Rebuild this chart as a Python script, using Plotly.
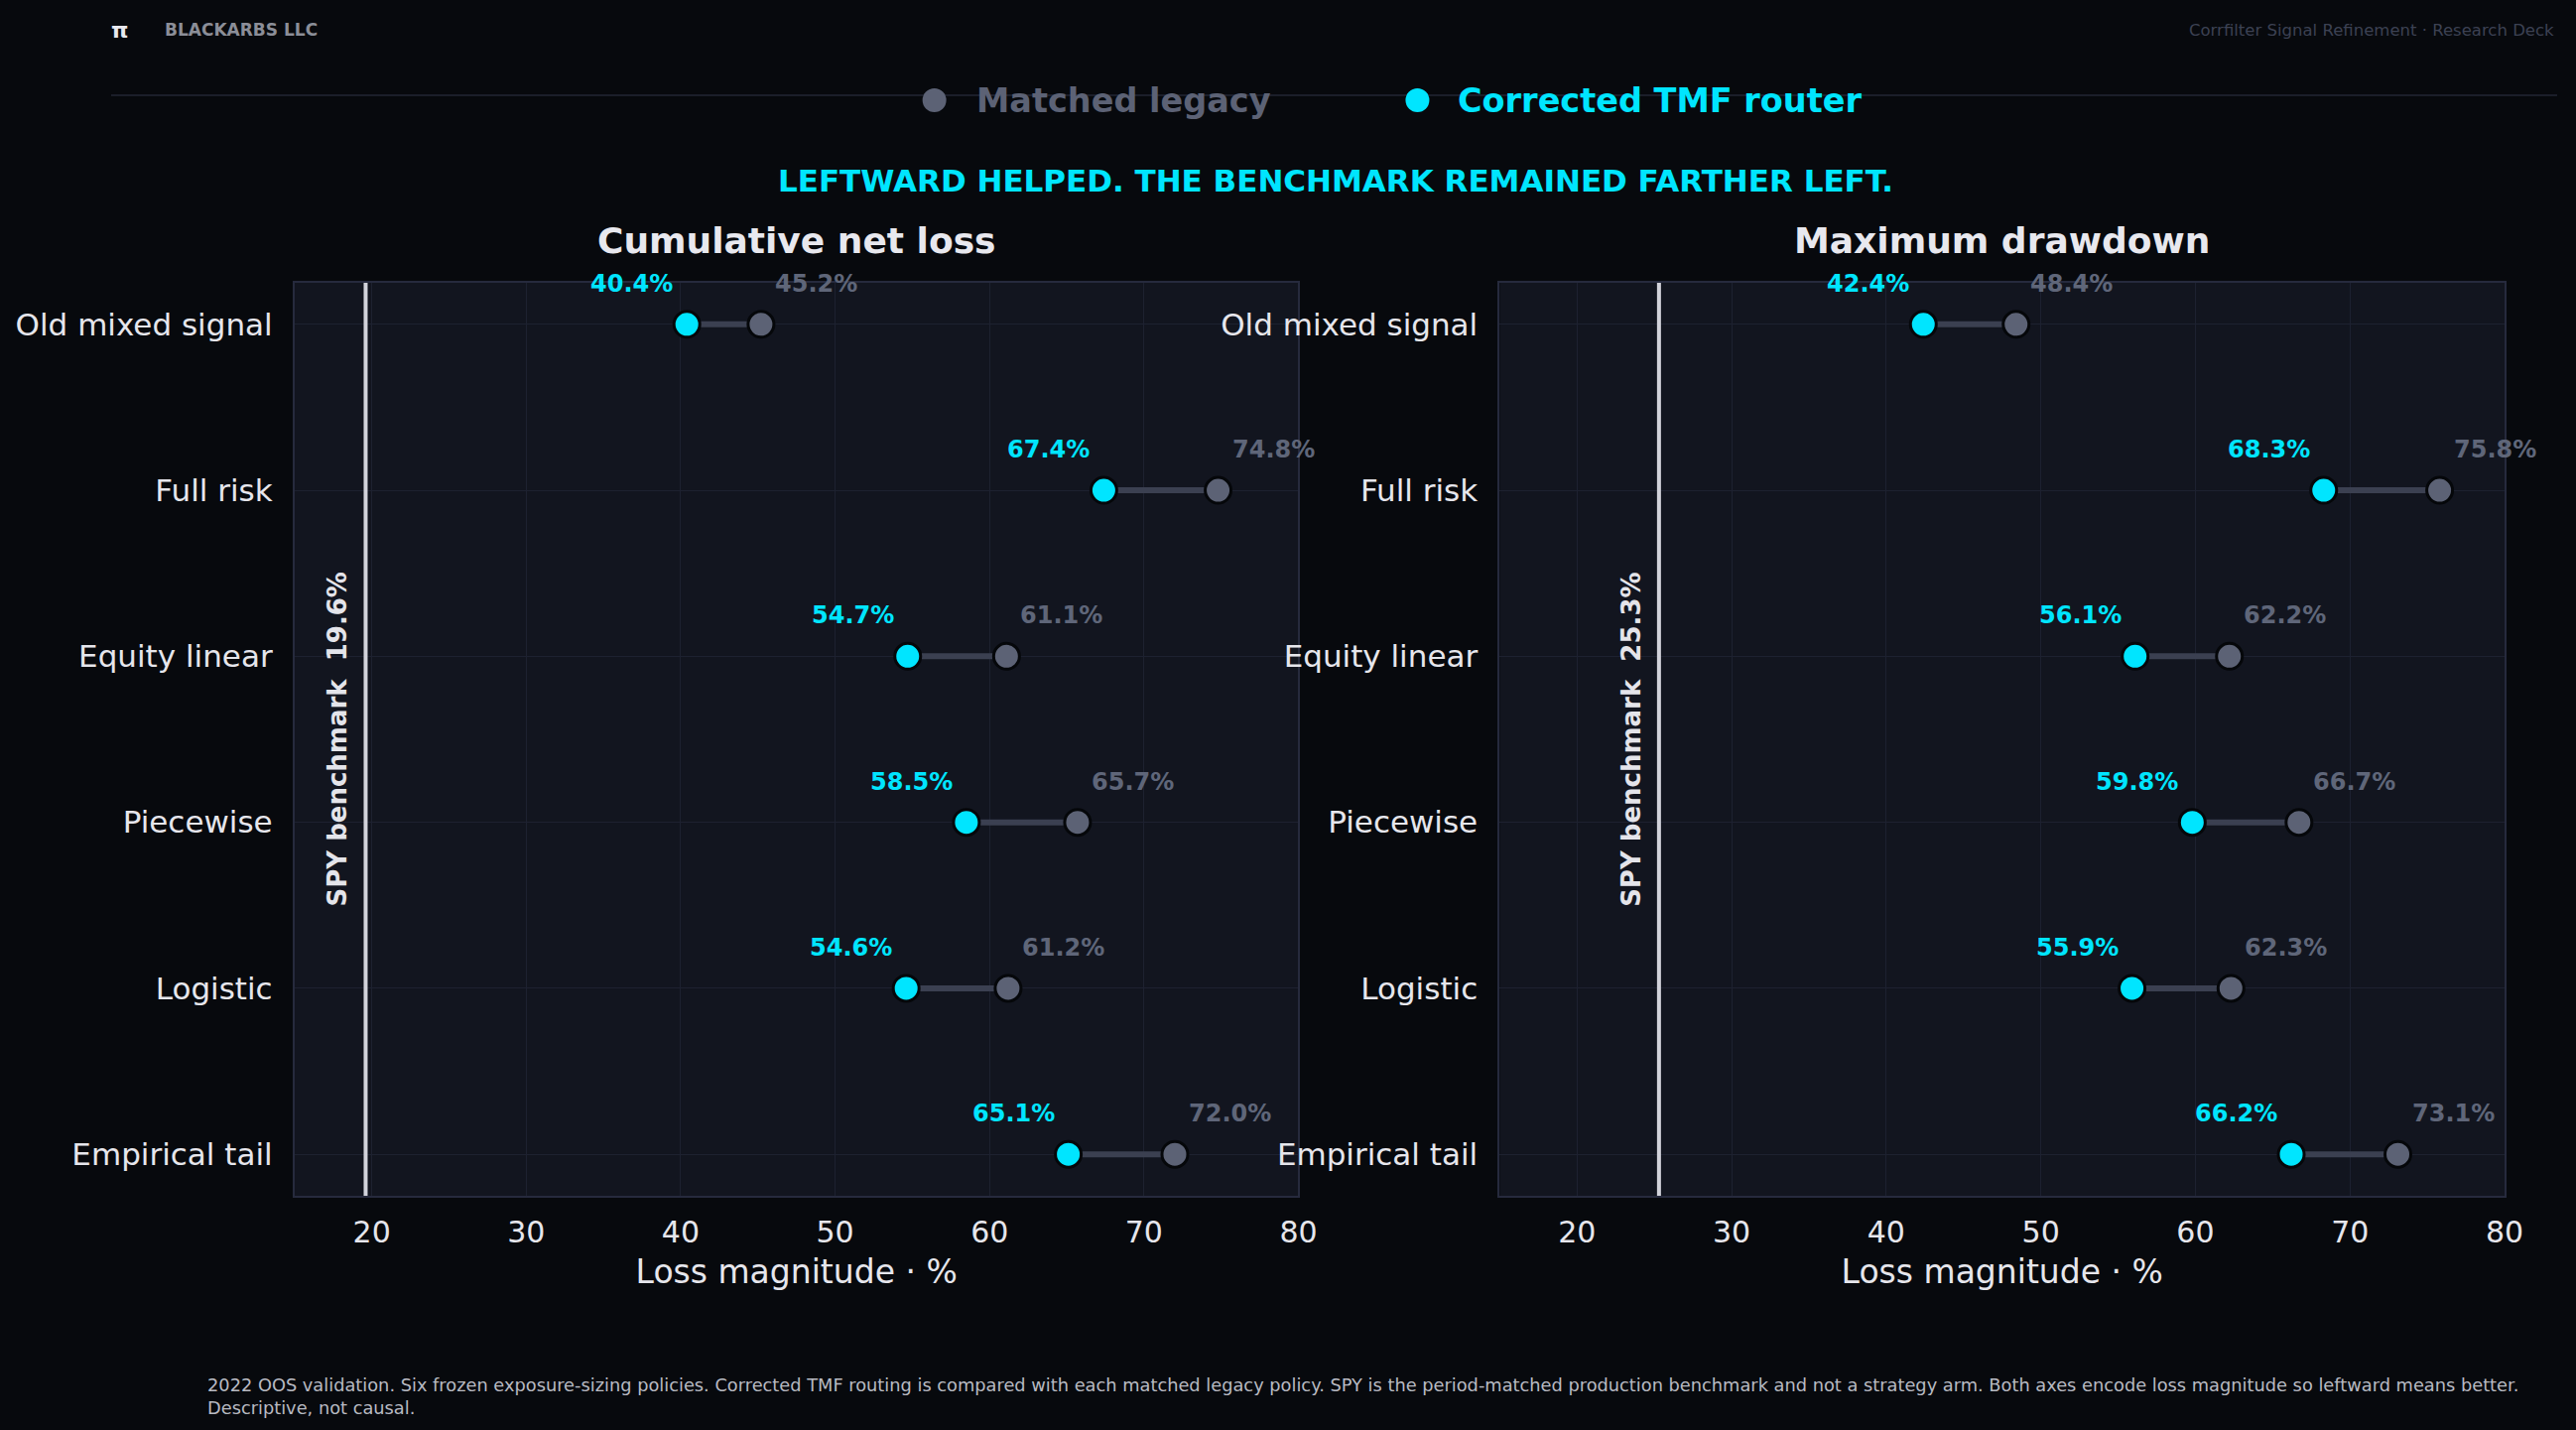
import plotly.graph_objects as go

# ---------------- data ----------------
categories = ["Old mixed signal", "Full risk", "Equity linear", "Piecewise", "Logistic", "Empirical tail"]
loss_legacy = [45.2, 74.8, 61.1, 65.7, 61.2, 72.0]
loss_corrected = [40.4, 67.4, 54.7, 58.5, 54.6, 65.1]
dd_legacy = [48.4, 75.8, 62.2, 66.7, 62.3, 73.1]
dd_corrected = [42.4, 68.3, 56.1, 59.8, 55.9, 66.2]
spy_loss = 19.6
spy_dd = 25.3
panel_titles = ["Cumulative net loss", "Maximum drawdown"]
x_tick_vals = [20, 30, 40, 50, 60, 70, 80]
series_names = ["Matched legacy", "Corrected TMF router"]

# ---------------- style ----------------
H = 1441
WE = 2578  # effective drawing width used for paper fractions
FONT = "DejaVu Sans"
PAPER = "#07090d"
PLOT = "#12151f"
GRID = "#1d2130"
FRAME = "#262a3d"
CYAN = "#00e5ff"
GREY = "#5c6275"
GREY_LBL = "#5f6679"
CONNECT = "#3b4051"
OUTLINE = "#05070a"
TXT = "#e6e6ec"

panels = [
    dict(legacy=loss_legacy, corrected=loss_corrected, spy=spy_loss, title=panel_titles[0],
         xa="x", ya="y", dom=[297 / WE, 1309 / WE]),
    dict(legacy=dd_legacy, corrected=dd_corrected, spy=spy_dd, title=panel_titles[1],
         xa="x2", ya="y2", dom=[1512 / WE, 2525 / WE]),
]
ydom = [1 - 1205 / H, 1 - 285 / H]

fig = go.Figure()
annotations = []
shapes = []

for i, p in enumerate(panels):
    # connectors
    cx, cy = [], []
    for c, a, b in zip(categories, p["corrected"], p["legacy"]):
        cx += [a, b, None]
        cy += [c, c, None]
    fig.add_trace(go.Scatter(x=cx, y=cy, mode="lines", xaxis=p["xa"], yaxis=p["ya"],
                             line=dict(color=CONNECT, width=6), hoverinfo="skip", showlegend=False))
    fig.add_trace(go.Scatter(x=p["legacy"], y=categories, mode="markers", name=series_names[0],
                             xaxis=p["xa"], yaxis=p["ya"], showlegend=False,
                             marker=dict(size=26, color=GREY, line=dict(color=OUTLINE, width=3))))
    fig.add_trace(go.Scatter(x=p["corrected"], y=categories, mode="markers", name=series_names[1],
                             xaxis=p["xa"], yaxis=p["ya"], showlegend=False,
                             marker=dict(size=26, color=CYAN, line=dict(color=OUTLINE, width=3))))
    # value labels
    for c, a, b in zip(categories, p["corrected"], p["legacy"]):
        annotations.append(dict(x=a, y=c, xref=p["xa"], yref=p["ya"], text=f"<b>{a:.1f}%</b>",
                                showarrow=False, xanchor="right", yanchor="middle", xshift=-12, yshift=41,
                                font=dict(family=FONT, size=24, color=CYAN)))
        annotations.append(dict(x=b, y=c, xref=p["xa"], yref=p["ya"], text=f"<b>{b:.1f}%</b>",
                                showarrow=False, xanchor="left", yanchor="middle", xshift=12, yshift=41,
                                font=dict(family=FONT, size=24, color=GREY_LBL)))
    # benchmark
    shapes.append(dict(type="line", xref=p["xa"], yref=p["ya"] + " domain", x0=p["spy"], x1=p["spy"],
                       y0=0, y1=1, line=dict(color="#d2d3db", width=4), layer="above"))
    annotations.append(dict(x=p["spy"], y=0.5, xref=p["xa"], yref=p["ya"] + " domain",
                            text=f"<b>SPY benchmark  {p['spy']:.1f}%</b>", textangle=-90,
                            showarrow=False, xanchor="center", yanchor="middle", xshift=-28,
                            font=dict(family=FONT, size=26, color="#e4e4ea")))
    # panel title
    annotations.append(dict(x=0.5, y=1 - 242 / H, xref=p["xa"] + " domain", yref="paper",
                            text=f"<b>{p['title']}</b>",
                            showarrow=False, xanchor="center", yanchor="middle",
                            font=dict(family=FONT, size=36, color="#e8e8ee")))

axis_common_x = dict(range=[15, 80], tickvals=x_tick_vals, showgrid=True, gridcolor=GRID, gridwidth=1,
                     zeroline=False, showline=True, mirror=True, linecolor=FRAME, linewidth=2,
                     ticks="outside", ticklen=9, tickcolor="rgba(0,0,0,0)",
                     tickfont=dict(family=FONT, size=30, color=TXT),
                     title=dict(text="Loss magnitude · %", standoff=12,
                                font=dict(family=FONT, size=33, color=TXT)))
axis_common_y = dict(type="category", categoryarray=categories, range=[5.25, -0.25],
                     showgrid=True, gridcolor=GRID, gridwidth=1, zeroline=False,
                     showline=True, mirror=True, linecolor=FRAME, linewidth=2,
                     ticks="outside", ticklen=14, tickcolor="rgba(0,0,0,0)",
                     tickfont=dict(family=FONT, size=31, color=TXT))

fig.update_layout(
    xaxis=dict(domain=panels[0]["dom"], anchor="y", **axis_common_x),
    yaxis=dict(domain=ydom, anchor="x", **axis_common_y),
    xaxis2=dict(domain=panels[1]["dom"], anchor="y2", **axis_common_x),
    yaxis2=dict(domain=ydom, anchor="x2", **axis_common_y),
)

# header rule
shapes.append(dict(type="line", xref="paper", yref="paper", x0=112 / WE, x1=2578 / WE,
                   y0=1 - 96 / H, y1=1 - 96 / H, line=dict(color="#1b1e29", width=2), layer="below"))

# legend (custom)
leg_y = 1 - 101 / H
for cxp, col, name, tx in [(942, GREY, series_names[0], 982), (1429, CYAN, series_names[1], 1468)]:
    r = 12
    shapes.append(dict(type="circle", xref="paper", yref="paper", x0=(cxp - r) / WE, x1=(cxp + r) / WE,
                       y0=leg_y - r / H, y1=leg_y + r / H, fillcolor=col, line=dict(width=0)))
    annotations.append(dict(x=tx / WE, y=leg_y, xref="paper", yref="paper", text=f"<b>{name}</b>",
                            showarrow=False, xanchor="left", yanchor="middle",
                            font=dict(family=FONT, size=33.5, color=col)))

# subtitle
annotations.append(dict(x=1347 / WE, y=1 - 182 / H, xref="paper", yref="paper",
                        text="<b>LEFTWARD HELPED. THE BENCHMARK REMAINED FARTHER LEFT.</b>",
                        showarrow=False, xanchor="center", yanchor="middle",
                        font=dict(family=FONT, size=31, color=CYAN)))

# brand
annotations.append(dict(x=121 / WE, y=1 - 30 / H, xref="paper", yref="paper", text="<b>π</b>",
                        showarrow=False, xanchor="center", yanchor="middle",
                        font=dict(family=FONT, size=22, color="#e8e8ee")))
annotations.append(dict(x=164 / WE, y=1 - 30 / H, xref="paper", yref="paper", text="<b>BLACKARBS LLC</b>",
                        showarrow=False, xanchor="left", yanchor="middle",
                        font=dict(family=FONT, size=17, color="#8b8e98")))
annotations.append(dict(x=2577 / WE, y=1 - 30 / H, xref="paper", yref="paper",
                        text="Corrfilter Signal Refinement · Research Deck",
                        showarrow=False, xanchor="right", yanchor="middle",
                        font=dict(family=FONT, size=16.5, color="#3c4153")))

# footer
annotations.append(dict(x=207 / WE, y=1 - 1383 / H, xref="paper", yref="paper",
                        text=("2022 OOS validation. Six frozen exposure-sizing policies. Corrected TMF routing is "
                              "compared with each matched legacy policy. SPY is the period-matched production "
                              "benchmark and not a strategy arm. Both axes encode loss magnitude so leftward means "
                              "better.<br>Descriptive, not causal."),
                        showarrow=False, xanchor="left", yanchor="top", align="left",
                        font=dict(family=FONT, size=17.8, color="#b8bac2")))

fig.update_layout(
    height=H, autosize=True,
    margin=dict(l=0, r=0, t=0, b=0),
    paper_bgcolor=PAPER, plot_bgcolor=PLOT,
    showlegend=False,
    annotations=annotations, shapes=shapes,
    font=dict(family=FONT, color=TXT),
)

fig.write_html("out.html", default_width="100%",
               post_script="document.body.style.background='#07090d';"
                           "document.documentElement.style.background='#07090d';")
